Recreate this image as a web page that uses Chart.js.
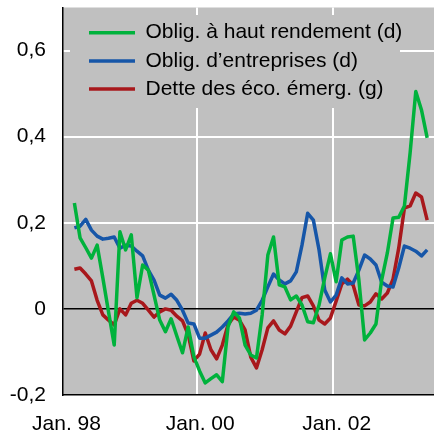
<!DOCTYPE html>
<html><head><meta charset="utf-8">
<script src="https://cdn.jsdelivr.net/npm/chart.js@4/dist/chart.umd.min.js"></script>
<style>html,body{margin:0;padding:0;background:#fff}#wrap{width:434px;height:436px;position:relative}</style>
</head><body><div id="wrap"><canvas id="c"></canvas></div>
<script>
// ---- data ----
const months = [
  '1998-03','1998-04','1998-05','1998-06','1998-07','1998-08','1998-09','1998-10','1998-11','1998-12',
  '1999-01','1999-02','1999-03','1999-04','1999-05','1999-06','1999-07','1999-08','1999-09','1999-10','1999-11','1999-12',
  '2000-01','2000-02','2000-03','2000-04','2000-05','2000-06','2000-07','2000-08','2000-09','2000-10','2000-11','2000-12',
  '2001-01','2001-02','2001-03','2001-04','2001-05','2001-06','2001-07','2001-08','2001-09','2001-10','2001-11','2001-12',
  '2002-01','2002-02','2002-03','2002-04','2002-05','2002-06','2002-07','2002-08','2002-09','2002-10','2002-11','2002-12',
  '2003-01','2003-02','2003-03','2003-04','2003-05'
];
const seriesNames = ['Oblig. à haut rendement (d)', 'Oblig. d\u2019entreprises (d)', 'Dette des éco. émerg. (g)'];
const highYield = [
  0.246, 0.165, 0.142, 0.118, 0.148, 0.072, -0.007, -0.084, 0.179, 0.137,
  0.172, 0.026, 0.102, 0.090, 0.032, -0.026, -0.053, -0.023, -0.063, -0.102,
  -0.042, -0.111, -0.144, -0.172, -0.162, -0.153, -0.169, -0.042, -0.007, -0.021,
  -0.084, -0.107, -0.114, -0.014, 0.125, 0.167, 0.056, 0.051, 0.021, 0.030,
  0.009, -0.030, -0.032, 0.009, 0.072, 0.128, 0.063, 0.160, 0.167, 0.169,
  0.067, -0.072, -0.056, -0.035, 0.067, 0.130, 0.211, 0.213, 0.239, 0.362,
  0.505, 0.462, 0.397
];
const corporate = [
  0.188, 0.192, 0.208, 0.183, 0.169, 0.162, 0.164, 0.167, 0.141, 0.148,
  0.146, 0.134, 0.123, 0.090, 0.067, 0.032, 0.025, 0.034, 0.020, -0.003,
  -0.033, -0.035, -0.068, -0.068, -0.061, -0.054, -0.042, -0.028, -0.012, -0.010,
  -0.012, -0.010, -0.003, 0.020, 0.051, 0.081, 0.067, 0.058, 0.065, 0.086,
  0.148, 0.222, 0.206, 0.137, 0.044, 0.016, 0.032, 0.072, 0.058, 0.060,
  0.090, 0.125, 0.116, 0.102, 0.062, 0.053, 0.051, 0.095, 0.146, 0.141,
  0.134, 0.123, 0.137
];
const emerging = [
  0.092, 0.095, 0.081, 0.065, 0.020, -0.014, -0.026, -0.037, 0.000, -0.014,
  0.013, 0.020, 0.013, -0.003, -0.019, -0.007, 0.000, -0.003, -0.017, -0.028,
  -0.060, -0.121, -0.105, -0.056, -0.095, -0.116, -0.084, -0.037, -0.019, -0.026,
  -0.049, -0.112, -0.137, -0.095, -0.044, -0.028, -0.049, -0.058, -0.040, -0.007,
  0.026, 0.030, 0.007, -0.026, -0.035, -0.021, 0.018, 0.058, 0.069, 0.055,
  0.009, 0.007, 0.016, 0.035, 0.023, 0.037, 0.069, 0.141, 0.234, 0.239,
  0.269, 0.260, 0.206
];
const yTickValues = [-0.2, 0, 0.2, 0.4, 0.6];
const xTickMonths = ['1998-01', '2000-01', '2002-01'];
const xTickLabels = ['Jan. 98', 'Jan. 00', 'Jan. 02'];

// ---- styles ----
const PLOT_BG = '#c0c0c0';
const COLORS = ['#00b23c', '#1656a8', '#a8181c'];
const FONT = {family: "'Liberation Sans', Arial, sans-serif", size: 21};
const X_MIN = 0.5, X_MAX = 65.7;

const monthStart = s => { const [y, m] = s.split('-').map(Number); return (y - 1998) * 12 + (m - 1); };
const toPoints = vals => vals.map((v, i) => ({x: monthStart(months[i]) + 0.5, y: v}));

const plotBg = {
  id: 'plotBg',
  beforeDraw(chart) {
    const {ctx, chartArea: a} = chart;
    ctx.save(); ctx.fillStyle = PLOT_BG;
    ctx.fillRect(a.left, a.top, a.right - a.left, a.bottom - a.top);
    ctx.restore();
  }
};
const legendPlacer = {
  id: 'legendPlacer',
  afterLayout(chart) {
    const L = chart.legend; if (!L) return;
    L.left = 81.8; L.top = 15; L.right = 434; L.bottom = 395;
    if (!L._bgWrapped) {
      const orig = L.draw.bind(L);
      L.draw = function (area) {
        const ctx = chart.ctx; ctx.save(); ctx.fillStyle = PLOT_BG;
        ctx.fillRect(70, 15, 330, 93); ctx.restore();
        orig(area);
      };
      L._bgWrapped = true;
    }
  }
};

new Chart(document.getElementById('c'), {
  type: 'line',
  data: {
    datasets: [highYield, corporate, emerging].map((vals, i) => ({
      label: seriesNames[i], data: toPoints(vals),
      borderColor: COLORS[i], backgroundColor: COLORS[i],
      borderWidth: 3.5, pointRadius: 0, tension: 0, fill: false,
      borderJoinStyle: 'round', borderCapStyle: 'butt'
    }))
  },
  options: {
    responsive: true, maintainAspectRatio: false, animation: false,
    devicePixelRatio: 1,
    layout: {padding: {top: 7.5, left: 0, right: 0, bottom: 0}},
    plugins: {
      tooltip: {enabled: false},
      legend: {
        position: 'chartArea', align: 'start',
        labels: {
          font: FONT, color: '#000', padding: 7.2,
          usePointStyle: true, pointStyle: 'line', pointStyleWidth: 46, boxHeight: 10
        }
      }
    },
    scales: {
      x: {
        type: 'linear', min: X_MIN, max: X_MAX,
        afterBuildTicks: s => { s.ticks = xTickMonths.map(m => ({value: Math.max(monthStart(m), X_MIN)})); },
        afterFit: s => { s.height = 41; s.paddingLeft = 0; s.paddingRight = 0; },
        ticks: {
          font: FONT, color: '#000', padding: 17, maxRotation: 0, autoSkip: false, labelOffset: 3.5,
          callback: (v, i) => xTickLabels[i]
        },
        grid: {
          drawTicks: false, lineWidth: 2,
          color: c => c.index === 0 ? 'rgba(0,0,0,0)' : '#ffffff'
        },
        border: {display: true, color: '#000', width: 1.5}
      },
      y: {
        min: -0.2, max: 0.7,
        afterBuildTicks: s => { s.ticks = yTickValues.map(v => ({value: v})); },
        afterFit: s => { s.width = 63; s.paddingTop = 0; s.paddingBottom = 0; },
        ticks: {
          font: FONT, color: '#000', padding: 17,
          callback: v => Math.abs(v) < 1e-9 ? '0' : v.toFixed(1).replace('.', ',')
        },
        grid: {
          drawTicks: false,
          lineWidth: c => Math.abs(c.tick.value) < 1e-9 ? 1.5 : 2,
          color: c => Math.abs(c.tick.value) < 1e-9 ? '#000' : (c.tick.value < -0.1 ? 'rgba(0,0,0,0)' : '#ffffff')
        },
        border: {display: true, color: '#000', width: 1.5}
      }
    }
  },
  plugins: [plotBg, legendPlacer]
});
</script>
</body></html>
